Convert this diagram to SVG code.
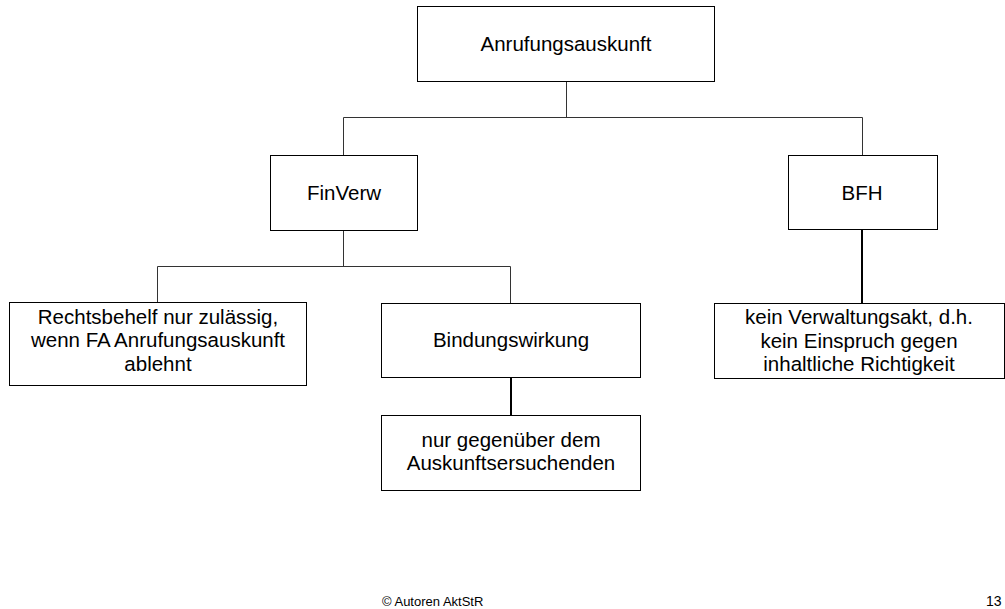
<svg xmlns="http://www.w3.org/2000/svg" width="1005" height="609" viewBox="0 0 1005 609">
<style>
.box{fill:#fff;stroke:#000;stroke-width:1}
.t{font-family:"Liberation Sans",Arial,sans-serif;font-size:20.5px;fill:#000;text-anchor:middle}
.ln{stroke:#333;stroke-width:1;fill:none}
.lnb{stroke:#000;stroke-width:2;fill:none}
.f{font-family:"Liberation Sans",Arial,sans-serif;font-size:13px;fill:#000}
</style>
<rect width="1005" height="609" fill="#fff"/>
<g id="connectors">
<path class="ln" d="M566.5 81V117.5M343.5 117.5H862.5M343.5 117.5V155M862.5 117.5V155"/>
<path class="ln" d="M343.5 230V266.5M157.5 266.5H510.5M157.5 266.5V302M510.5 266.5V303"/>
<path class="lnb" d="M862 229V303"/>
<path class="lnb" d="M511 377V415"/>
</g>
<g id="n-root"><rect class="box" x="417.5" y="6.5" width="297" height="75"/><text class="t" x="566" y="51">Anrufungsauskunft</text></g>
<g id="n-finverw"><rect class="box" x="270.5" y="155.5" width="147" height="75"/><text class="t" x="344" y="200">FinVerw</text></g>
<g id="n-bfh"><rect class="box" x="788.5" y="155.5" width="149" height="74"/><text class="t" x="862" y="200">BFH</text></g>
<g id="n-rechtsbehelf"><rect class="box" x="9.5" y="302.5" width="297" height="83"/><text class="t" x="158" y="324">Rechtsbehelf nur zulässig,</text><text class="t" x="158" y="347">wenn FA Anrufungsauskunft</text><text class="t" x="158" y="371">ablehnt</text></g>
<g id="n-bindung"><rect class="box" x="381.5" y="303.5" width="259" height="74"/><text class="t" x="511" y="347">Bindungswirkung</text></g>
<g id="n-nur"><rect class="box" x="381.5" y="415.5" width="259" height="75"/><text class="t" x="511" y="447">nur gegenüber dem</text><text class="t" x="511" y="470">Auskunftsersuchenden</text></g>
<g id="n-kein"><rect class="box" x="714.5" y="303.5" width="290" height="75"/><text class="t" x="859" y="324">kein Verwaltungsakt, d.h.</text><text class="t" x="859" y="348">kein Einspruch gegen</text><text class="t" x="859" y="371">inhaltliche Richtigkeit</text></g>
<text class="f" x="382" y="606">© Autoren AktStR</text>
<text class="f" x="986" y="606" style="font-size:14px">13</text>
</svg>
